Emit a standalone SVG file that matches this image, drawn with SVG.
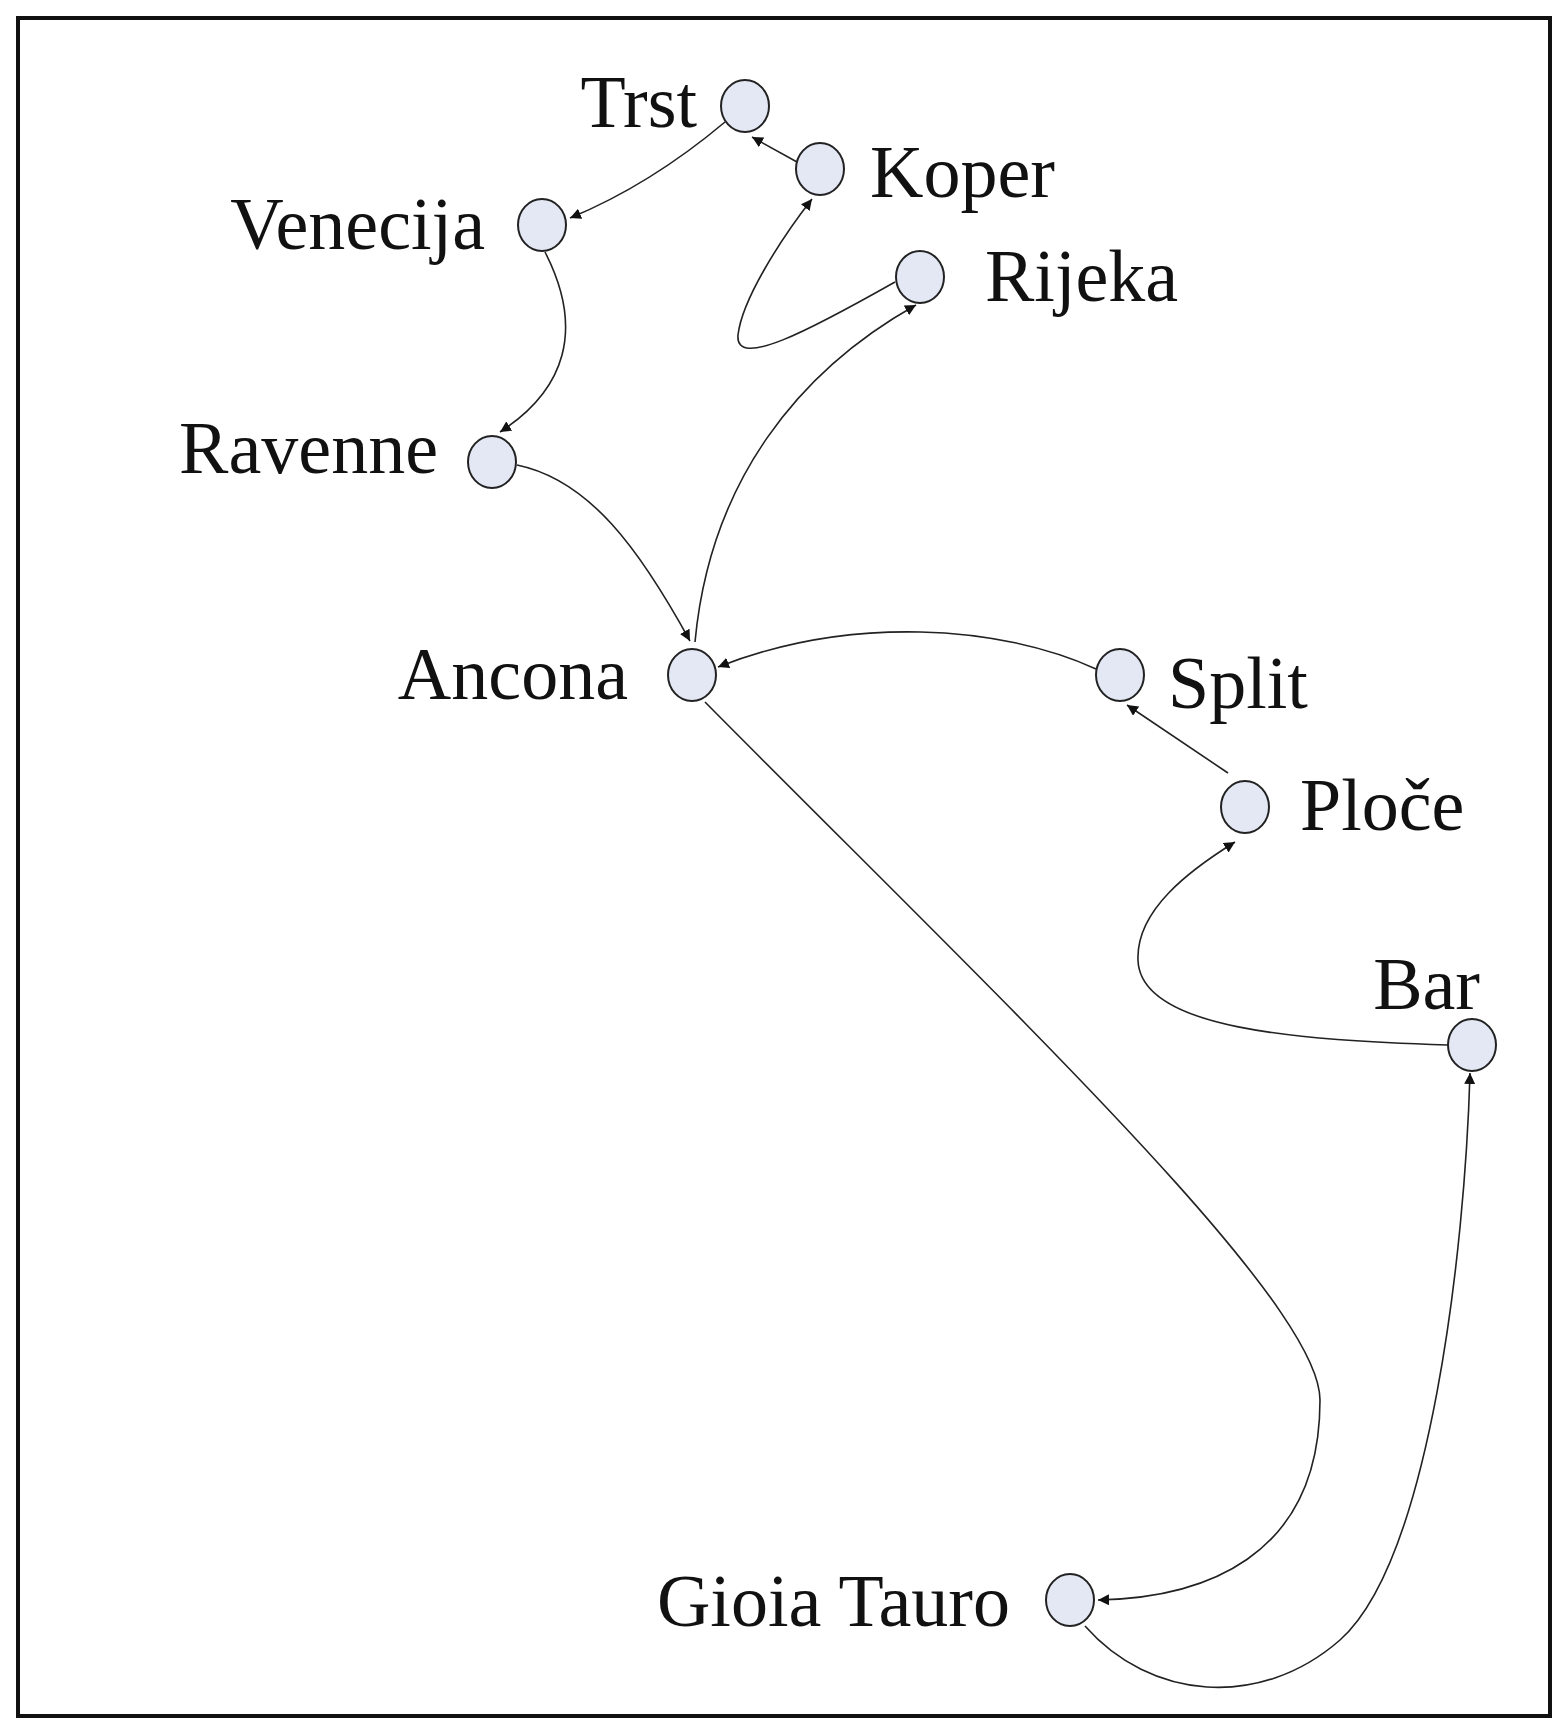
<svg xmlns="http://www.w3.org/2000/svg" width="1560" height="1726" viewBox="0 0 1560 1726">
<style>
.n{fill:#e3e8f4;stroke:#222;stroke-width:2}
.e{fill:none;stroke:#222;stroke-width:1.6;marker-end:url(#a)}
text{font-family:"Liberation Serif",serif;font-size:74px;fill:#111}
.r{text-anchor:end}
</style>
<defs><marker id="a" viewBox="0 0 10 10" refX="10" refY="5" markerWidth="11" markerHeight="11" markerUnits="userSpaceOnUse" orient="auto"><path d="M0,0L10,5L0,10z" fill="#111"/></marker></defs>
<rect x="18" y="18" width="1532" height="1698" fill="#fff" stroke="#111" stroke-width="4"/>
<g id="connectors">
<path class="e" d="M725,122 Q650,185 570,218"/>
<path class="e" d="M797,162 L752,137"/>
<path class="e" d="M895,282 C810,330 735,370 738,335 C742,300 780,240 812,199"/>
<path class="e" d="M695,642 C710,480 800,370 916,305"/>
<path class="e" d="M545,252 C585,330 565,390 500,432"/>
<path class="e" d="M517,465 C590,480 640,550 690,641"/>
<path class="e" d="M1096,669 C1000,625 850,615 718,667"/>
<path class="e" d="M1228,773 L1127,705"/>
<path class="e" d="M1448,1045 C1300,1040 1140,1030 1138,960 C1136,910 1190,870 1235,842"/>
<path class="e" d="M705,702 C1000,1000 1320,1300 1320,1400 C1320,1560 1200,1598 1098,1600"/>
<path class="e" d="M1085,1626 C1150,1700 1260,1710 1340,1640 C1430,1560 1465,1250 1470,1073"/>
</g>
<g id="trst"><ellipse class="n" cx="745" cy="106" rx="24" ry="26"/><text class="r" x="697" y="127">Trst</text></g>
<g id="koper"><ellipse class="n" cx="820" cy="169" rx="24" ry="26"/><text x="870" y="197">Koper</text></g>
<g id="venecija"><ellipse class="n" cx="542" cy="225" rx="24" ry="26"/><text class="r" x="485" y="249">Venecija</text></g>
<g id="rijeka"><ellipse class="n" cx="920" cy="277" rx="24" ry="26"/><text x="985" y="301">Rijeka</text></g>
<g id="ravenne"><ellipse class="n" cx="492" cy="462" rx="24" ry="26"/><text class="r" x="438" y="473">Ravenne</text></g>
<g id="ancona"><ellipse class="n" cx="692" cy="675" rx="24" ry="26"/><text class="r" x="628" y="699">Ancona</text></g>
<g id="split"><ellipse class="n" cx="1120" cy="675" rx="24" ry="26"/><text x="1168" y="708">Split</text></g>
<g id="ploce"><ellipse class="n" cx="1245" cy="807" rx="24" ry="26"/><text x="1300" y="830">Ploče</text></g>
<g id="bar"><ellipse class="n" cx="1472" cy="1045" rx="24" ry="26"/><text class="r" x="1480" y="1009">Bar</text></g>
<g id="gioia"><ellipse class="n" cx="1070" cy="1600" rx="24" ry="26"/><text class="r" x="1010" y="1626">Gioia Tauro</text></g>
</svg>
